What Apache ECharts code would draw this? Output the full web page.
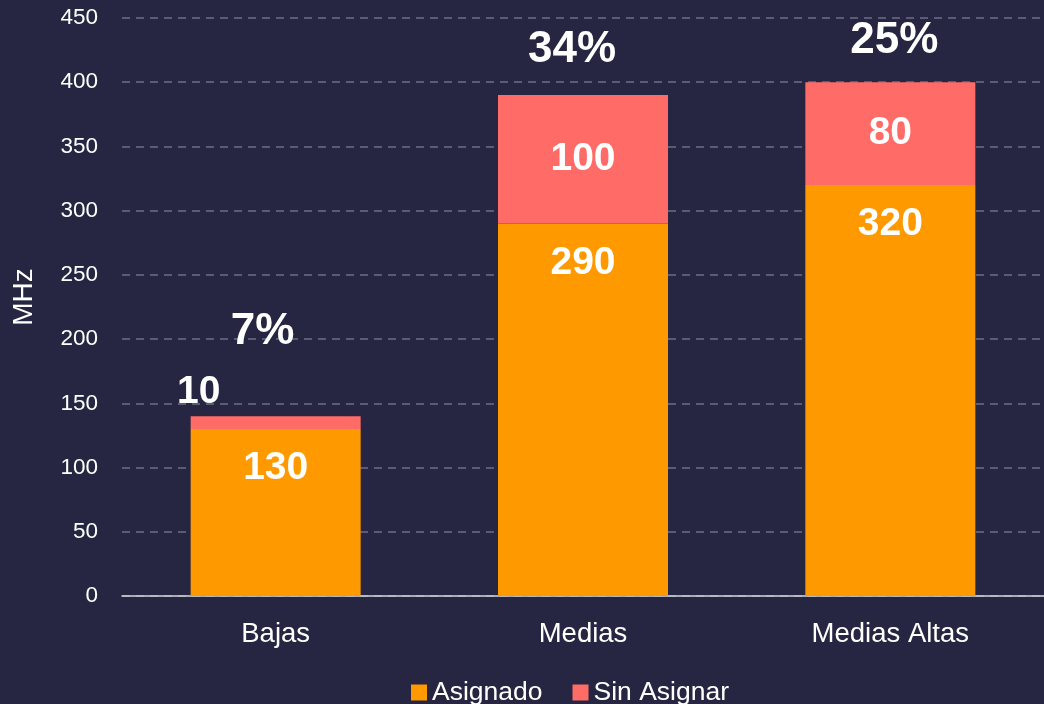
<!DOCTYPE html>
<html><head><meta charset="utf-8">
<script src="https://cdn.jsdelivr.net/npm/echarts@6/dist/echarts.min.js"></script>
<style>html,body{margin:0;padding:0;background:#262642;}#c{width:1044px;height:704px;}</style>
</head><body><div id="c"></div>
<script>
var categories = ['Bajas', 'Medias', 'Medias Altas'];
var asignado = [130, 290, 320];
var sinAsignar = [10, 100, 80];
var pctLabels = ['7%', '34%', '25%'];
var yTicks = {min: 0, max: 450, interval: 50};

var totals = asignado.map(function(v, i){ return v + sinAsignar[i]; });
var pctOffsets = [[-13, -84], [-11, -45], [4, -41]];
var font = 'Liberation Sans, Arial, sans-serif';

var chart = echarts.init(document.getElementById('c'));
chart.setOption({
  backgroundColor: '#262642',
  animation: false,
  grid: {left: 122, width: 927, top: 18, bottom: 108},
  legend: {
    data: ['Asignado', 'Sin Asignar'],
    top: 674, left: 406,
    itemWidth: 16, itemHeight: 16, itemGap: 30,
    icon: 'rect',
    textStyle: {color: '#ffffff', fontSize: 26.5, fontFamily: font, padding: [0, 0, 0, 0]}
  },
  xAxis: {
    type: 'category', data: categories,
    axisLine: {lineStyle: {color: '#d9d9d9', width: 1.5}},
    axisTick: {show: false},
    axisLabel: {color: '#ffffff', fontSize: 27.5, fontFamily: font, margin: 24}
  },
  yAxis: {
    type: 'value', min: yTicks.min, max: yTicks.max, interval: yTicks.interval,
    name: 'MHz', nameLocation: 'middle', nameGap: 84, nameRotate: 90,
    nameTextStyle: {color: '#ffffff', fontSize: 28, fontFamily: font, padding: [0, 0, 0, 20]},
    axisLine: {show: false}, axisTick: {show: false},
    axisLabel: {color: '#ffffff', fontSize: 22.5, fontFamily: font, margin: 24},
    splitLine: {lineStyle: {color: '#6e6e84', type: [8, 6], width: 1.5}}
  },
  series: [
    {
      name: 'Asignado', type: 'bar', stack: 't', barWidth: 170,
      itemStyle: {color: '#FF9900'},
      label: {show: true, position: 'insideTop', distance: 20, color: '#ffffff',
              fontSize: 39, fontWeight: 'bold', fontFamily: font},
      data: asignado
    },
    {
      name: 'Sin Asignar', type: 'bar', stack: 't', barWidth: 170,
      itemStyle: {color: '#FF6B67'},
      label: {show: true, position: 'inside', color: '#ffffff',
              fontSize: 39, fontWeight: 'bold', fontFamily: font},
      data: sinAsignar.map(function(v, i){
        if (i === 0) return {value: v, label: {position: 'top', offset: [-77, 0], distance: 4}};
        return v;
      })
    },
    {
      name: 'pct', type: 'scatter', symbol: 'circle', symbolSize: 1, silent: true,
      itemStyle: {color: 'rgba(0,0,0,0)', opacity: 1},
      label: {show: true, position: 'inside', color: '#ffffff',
              fontSize: 44, fontWeight: 'bold', fontFamily: font,
              formatter: function(p){ return pctLabels[p.dataIndex]; }},
      data: totals.map(function(v, i){ return {value: v, label: {offset: pctOffsets[i]}}; })
    }
  ]
});
</script></body></html>
